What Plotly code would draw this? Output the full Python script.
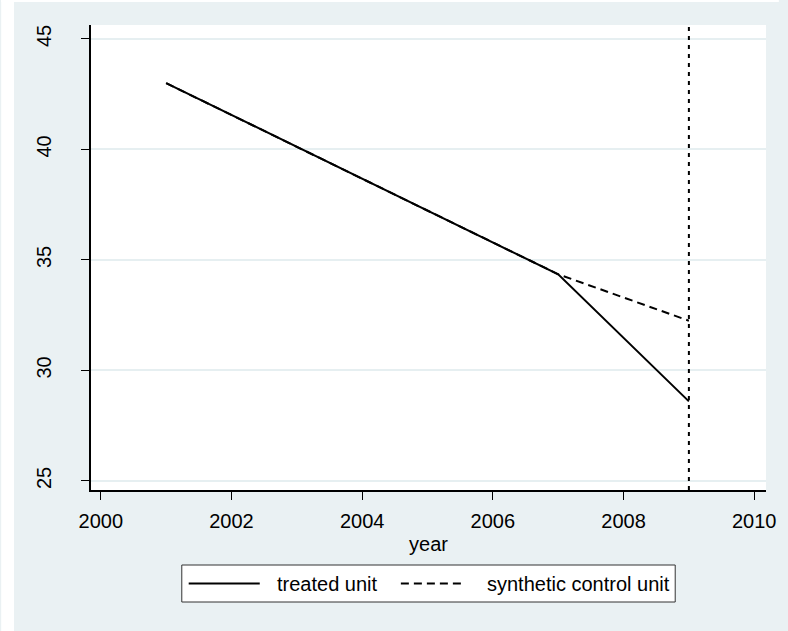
import plotly.graph_objects as go

# Outcome series by year
years = [2001, 2007, 2009]
treated = [43.0, 34.35, 28.6]
synthetic = [43.0, 34.35, 32.25]
treatment_year = 2009

x_ticks = [2000, 2002, 2004, 2006, 2008, 2010]
y_ticks = [25, 30, 35, 40, 45]

series_names = ["treated unit", "synthetic control unit"]
series_dash = ["solid", "8px,5px"]

W, H = 788, 631
L, R, T, B = 91, 13, 25, 141
BG = "#eaf1f3"
GRID = "#e6eff1"


def px_to_paper(px, py):
    pw, ph = W - L - R, H - T - B
    return (px - L) / pw, 1 - (py - T) / ph


fig = go.Figure()
for name, ys, dash in zip(series_names, [treated, synthetic], series_dash):
    fig.add_trace(go.Scatter(x=years, y=ys, mode="lines", name=name, showlegend=False,
                             line=dict(color="black", width=2, dash=dash)))

# vertical marker at the treatment year
fig.add_shape(type="line", xref="x", yref="paper", x0=treatment_year, x1=treatment_year,
              y0=0, y1=1, line=dict(color="black", width=2, dash="4px,5px"))

# white strips at the left and top edges of the page
x0p, ytop = px_to_paper(0, 0)
x13, y2 = px_to_paper(13, 2)
xr, ybot = px_to_paper(W, H)
fig.add_shape(type="rect", xref="paper", yref="paper", x0=x0p, x1=x13, y0=ybot, y1=ytop,
              fillcolor="white", line_width=0, layer="below")
fig.add_shape(type="rect", xref="paper", yref="paper", x0=x0p, x1=xr, y0=y2, y1=ytop,
              fillcolor="white", line_width=0, layer="below")

font = dict(family="Liberation Sans, Arial, sans-serif", size=20, color="black")

# legend box with long line keys
bx0, by0 = px_to_paper(183, 565)
bx1, by1 = px_to_paper(683, 602)
fig.add_shape(type="rect", xref="paper", yref="paper", x0=bx0, x1=bx1, y0=by1, y1=by0,
              fillcolor="white", line=dict(color="#333333", width=1))
key_x = [(190, 262, 277), (405, 468, 490)]
for (k0, k1, tx), name, dash in zip(key_x, series_names, series_dash):
    a, yk = px_to_paper(k0, 583.5)
    b, _ = px_to_paper(k1, 583.5)
    t, _ = px_to_paper(tx, 583.5)
    fig.add_shape(type="line", xref="paper", yref="paper", x0=a, x1=b, y0=yk, y1=yk,
                  line=dict(color="black", width=2, dash=dash))
    fig.add_annotation(xref="paper", yref="paper", x=t, y=yk, text=name, showarrow=False,
                       xanchor="left", yanchor="middle", font=font)

fig.update_layout(
    width=W, height=H,
    margin=dict(l=L, r=R, t=T, b=B),
    paper_bgcolor=BG, plot_bgcolor="white",
    font=font,
    showlegend=False,
    xaxis=dict(range=[1999.85, 2010.18], tickvals=x_ticks, showgrid=False,
               showline=True, linecolor="black", linewidth=1.5,
               ticks="outside", ticklen=8, tickcolor="black", tickwidth=1,
               ticklabelstandoff=4,
               title=dict(text="year", standoff=6, font=font), zeroline=False),
    yaxis=dict(range=[24.59, 45.63], tickvals=y_ticks, showgrid=True,
               gridcolor=GRID, gridwidth=2, tickangle=-90,
               showline=True, linecolor="black", linewidth=1.5,
               ticks="outside", ticklen=8, tickcolor="black", tickwidth=1,
               ticklabelstandoff=22, zeroline=False),
)

fig.write_html("out.html")
